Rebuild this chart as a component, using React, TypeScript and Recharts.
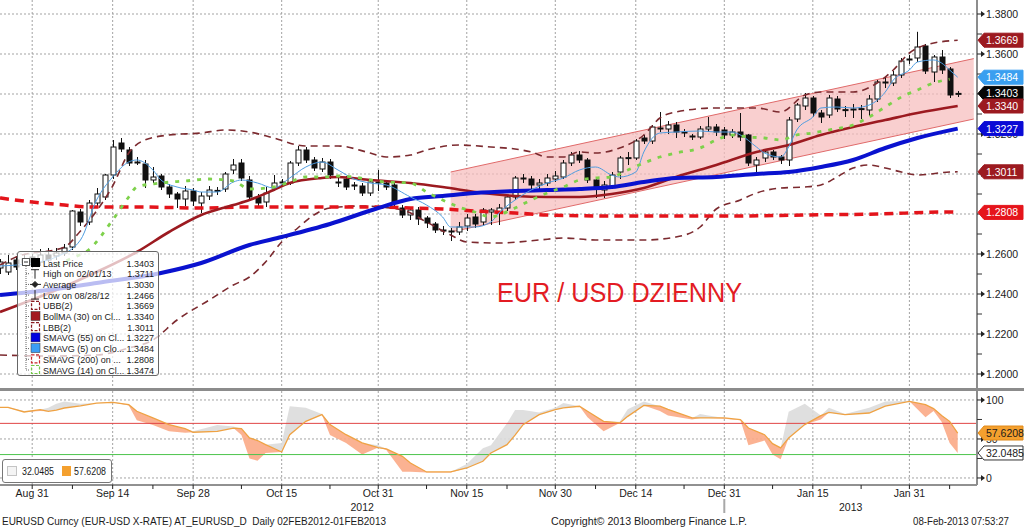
import React from "react";
import {
  ComposedChart,
  Bar,
  Line,
  Area,
  XAxis,
  YAxis,
  CartesianGrid,
  ReferenceLine,
  ReferenceArea,
} from "recharts";

const FONT = '"Liberation Sans", Arial, sans-serif';
const INK = "#1b1b1b";

// EUR/USD daily candles, weekdays 27 Aug 2012 .. 8 Feb 2013 (index = trading day)
const opens = [
  1.2530, 1.2510, 1.2570, 1.2555, 1.2585, 1.2560, 1.2595, 1.2590, 1.2605, 1.2635,
  1.2810, 1.2760, 1.2855, 1.2885, 1.2995, 1.3155, 1.3120, 1.3055, 1.3050, 1.2970,
  1.2990, 1.2935, 1.2900, 1.2875, 1.2915, 1.2855, 1.2890, 1.2915, 1.2925, 1.3020,
  1.3055, 1.2970, 1.2885, 1.2860, 1.2930, 1.2960, 1.2955, 1.3055, 1.3120, 1.3070,
  1.3025, 1.3060, 1.2960, 1.2975, 1.2945, 1.2940, 1.2905, 1.2960, 1.2955, 1.2945,
  1.2830, 1.2795, 1.2820, 1.2780, 1.2750, 1.2720, 1.2715, 1.2710, 1.2740, 1.2785,
  1.2760, 1.2810, 1.2805, 1.2830, 1.2885, 1.2975, 1.2975, 1.2945, 1.2955, 1.2975,
  1.2985, 1.3055, 1.3095, 1.3070, 1.2970, 1.2920, 1.2935, 1.3010, 1.3080, 1.3080,
  1.3180, 1.3165, 1.3225, 1.3225, 1.3245, 1.3210, 1.3190, 1.3185, 1.3225, 1.3235,
  1.3220, 1.3195, 1.3210, 1.3195, 1.3045, 1.3080, 1.3110, 1.3085, 1.3070, 1.3275,
  1.3340, 1.3380, 1.3305, 1.3295, 1.3375, 1.3320, 1.3320, 1.3325, 1.3320, 1.3375,
  1.3455, 1.3455, 1.3495, 1.3570, 1.3580, 1.3640, 1.3510, 1.3585, 1.3525, 1.3400,
];
const highs = [
  1.2575, 1.2595, 1.2590, 1.2600, 1.2600, 1.2625, 1.2630, 1.2630, 1.2650, 1.2820,
  1.2825, 1.2870, 1.2930, 1.3000, 1.3170, 1.3180, 1.3135, 1.3085, 1.3070, 1.3035,
  1.3000, 1.2950, 1.2910, 1.2940, 1.2930, 1.2910, 1.2940, 1.2935, 1.3010, 1.3075,
  1.3075, 1.2990, 1.2900, 1.2935, 1.2995, 1.2975, 1.3065, 1.3140, 1.3135, 1.3085,
  1.3080, 1.3075, 1.2980, 1.2990, 1.2960, 1.2955, 1.2975, 1.3020, 1.2970, 1.2960,
  1.2845, 1.2835, 1.2835, 1.2790, 1.2760, 1.2740, 1.2730, 1.2760, 1.2800, 1.2800,
  1.2830, 1.2830, 1.2850, 1.2895, 1.2990, 1.3000, 1.2990, 1.2975, 1.3000, 1.3015,
  1.3070, 1.3110, 1.3115, 1.3080, 1.2985, 1.2965, 1.3010, 1.3090, 1.3110, 1.3175,
  1.3195, 1.3245, 1.3310, 1.3265, 1.3260, 1.3225, 1.3200, 1.3240, 1.3285, 1.3250,
  1.3235, 1.3225, 1.3305, 1.3200, 1.3085, 1.3125, 1.3120, 1.3095, 1.3285, 1.3355,
  1.3405, 1.3390, 1.3320, 1.3395, 1.3390, 1.3340, 1.3350, 1.3345, 1.3395, 1.3470,
  1.3485, 1.3515, 1.3580, 1.3595, 1.3711, 1.3650, 1.3595, 1.3620, 1.3535, 1.3415,
];
const lows = [
  1.2500, 1.2495, 1.2520, 1.2540, 1.2530, 1.2540, 1.2560, 1.2570, 1.2590, 1.2620,
  1.2740, 1.2745, 1.2840, 1.2870, 1.2975, 1.3110, 1.3040, 1.3045, 1.2930, 1.2955,
  1.2920, 1.2880, 1.2830, 1.2840, 1.2840, 1.2805, 1.2870, 1.2895, 1.2910, 1.3000,
  1.2965, 1.2870, 1.2835, 1.2835, 1.2915, 1.2940, 1.2945, 1.3040, 1.3055, 1.3015,
  1.3010, 1.2975, 1.2935, 1.2920, 1.2920, 1.2890, 1.2890, 1.2915, 1.2920, 1.2840,
  1.2780, 1.2770, 1.2745, 1.2730, 1.2705, 1.2695, 1.2665, 1.2695, 1.2715, 1.2730,
  1.2745, 1.2745, 1.2745, 1.2815, 1.2870, 1.2955, 1.2925, 1.2910, 1.2940, 1.2960,
  1.2975, 1.3040, 1.3055, 1.2955, 1.2880, 1.2880, 1.2925, 1.2975, 1.3045, 1.3070,
  1.3150, 1.3150, 1.3210, 1.3200, 1.3180, 1.3185, 1.3170, 1.3175, 1.3210, 1.3190,
  1.3175, 1.3180, 1.3165, 1.3040, 1.3010, 1.3060, 1.3070, 1.3050, 1.3040, 1.3260,
  1.3320, 1.3285, 1.3255, 1.3280, 1.3310, 1.3285, 1.3280, 1.3275, 1.3290, 1.3360,
  1.3430, 1.3440, 1.3480, 1.3550, 1.3560, 1.3500, 1.3460, 1.3500, 1.3380, 1.3385,
];
const closes = [
  1.2560, 1.2555, 1.2535, 1.2575, 1.2545, 1.2595, 1.2570, 1.2605, 1.2630, 1.2815,
  1.2760, 1.2855, 1.2900, 1.2995, 1.3135, 1.3125, 1.3055, 1.3060, 1.2970, 1.2985,
  1.2935, 1.2900, 1.2875, 1.2915, 1.2865, 1.2890, 1.2920, 1.2918, 1.3000, 1.3045,
  1.2980, 1.2885, 1.2855, 1.2905, 1.2955, 1.2955, 1.3055, 1.3120, 1.3070, 1.3030,
  1.3060, 1.2995, 1.2955, 1.2935, 1.2940, 1.2905, 1.2960, 1.2955, 1.2935, 1.2860,
  1.2795, 1.2820, 1.2775, 1.2755, 1.2720, 1.2715, 1.2710, 1.2735, 1.2780, 1.2750,
  1.2820, 1.2820, 1.2830, 1.2885, 1.2980, 1.2980, 1.2945, 1.2955, 1.2980, 1.2990,
  1.3055, 1.3095, 1.3070, 1.2970, 1.2930, 1.2945, 1.2995, 1.3080, 1.3082, 1.3165,
  1.3165, 1.3235, 1.3230, 1.3245, 1.3210, 1.3205, 1.3185, 1.3225, 1.3235, 1.3210,
  1.3195, 1.3210, 1.3185, 1.3055, 1.3070, 1.3110, 1.3085, 1.3070, 1.3270, 1.3345,
  1.3380, 1.3305, 1.3285, 1.3380, 1.3325, 1.3322, 1.3325, 1.3327, 1.3375, 1.3460,
  1.3460, 1.3495, 1.3565, 1.3575, 1.3635, 1.3515, 1.3585, 1.3520, 1.3395, 1.3403,
];

// overlay studies at the given trading-day indices
const sma55Days = [0, 6, 12, 20, 25, 31, 35, 41, 47, 51, 55, 59, 64, 68, 72, 76, 80, 84, 89, 94, 98, 102, 106, 110, 114, 119];
const sma55 = [1.2395, 1.242, 1.2455, 1.2505, 1.2555, 1.2645, 1.2685, 1.275, 1.283, 1.2875, 1.289, 1.2905, 1.2915, 1.292, 1.2925, 1.2935, 1.296, 1.298, 1.2985, 1.3, 1.301, 1.3035, 1.307, 1.313, 1.318, 1.3227];

const bollDays = [0, 7, 12, 17, 21, 25, 29, 31, 34, 36, 40, 42, 46, 51, 55, 60, 64, 68, 72, 76, 80, 84, 89, 94, 98, 102, 106, 110, 114, 119];
const bollMid = [1.231, 1.242, 1.251, 1.261, 1.271, 1.2795, 1.2845, 1.287, 1.292, 1.2955, 1.298, 1.2985, 1.297, 1.2955, 1.2935, 1.2905, 1.289, 1.2885, 1.2885, 1.29, 1.293, 1.2985, 1.3045, 1.311, 1.3145, 1.3195, 1.3235, 1.327, 1.3305, 1.334];

const ubbDays = [0, 2, 8, 10, 12, 14, 16, 18, 21, 25, 28, 31, 34, 38, 42, 46, 48, 51, 53, 57, 61, 64, 66, 68, 70, 72, 74, 77, 80, 82, 84, 89, 94, 97, 100, 102, 106, 109, 111, 113, 115, 119];
const bollUpper = [1.2545, 1.2585, 1.2635, 1.2715, 1.2815, 1.294, 1.3105, 1.317, 1.3195, 1.3205, 1.322, 1.321, 1.318, 1.314, 1.314, 1.3105, 1.3085, 1.3095, 1.312, 1.3145, 1.3135, 1.3125, 1.311, 1.3085, 1.3085, 1.311, 1.3105, 1.313, 1.3195, 1.328, 1.331, 1.333, 1.333, 1.331, 1.3395, 1.341, 1.341, 1.3455, 1.352, 1.3605, 1.3645, 1.3669];

const lbbDays = [0, 6, 12, 16, 19, 22, 26, 29, 31, 33, 35, 37, 39, 41, 45, 50, 53, 56, 58, 62, 67, 70, 74, 80, 84, 87, 89, 92, 94, 97, 100, 102, 104, 106, 108, 110, 112, 114, 118, 119];
const bollLower = [1.2095, 1.209, 1.2095, 1.213, 1.217, 1.227, 1.237, 1.2445, 1.2485, 1.256, 1.266, 1.273, 1.2795, 1.283, 1.284, 1.282, 1.276, 1.2695, 1.266, 1.2655, 1.267, 1.268, 1.267, 1.267, 1.2685, 1.2735, 1.2825, 1.287, 1.2905, 1.293, 1.2935, 1.2945, 1.2985, 1.303, 1.3045, 1.303, 1.301, 1.2995, 1.301, 1.3011];

const sma200Days = [0, 4, 8, 11, 17, 25, 31, 38, 46, 51, 55, 59, 64, 68, 76, 84, 91, 100, 109, 118, 119];
const sma200 = [1.288, 1.286, 1.2845, 1.2835, 1.2835, 1.283, 1.2835, 1.2835, 1.2835, 1.283, 1.2825, 1.2815, 1.2805, 1.2795, 1.279, 1.279, 1.279, 1.2795, 1.28, 1.281, 1.2808];

const sma5Days = [0, 4, 7, 10, 12, 14, 16, 17, 19, 20, 22, 24, 25, 27, 29, 30, 32, 34, 36, 38, 40, 42, 44, 46, 48, 51, 53, 55, 56, 59, 61, 62, 64, 66, 68, 70, 72, 74, 76, 77, 79, 80, 82, 84, 87, 89, 91, 92, 94, 95, 97, 98, 99, 101, 102, 104, 106, 108, 110, 111, 113, 114, 116, 117, 118, 119];
const sma5 = [1.254, 1.2555, 1.2585, 1.267, 1.287, 1.2985, 1.306, 1.307, 1.302, 1.297, 1.2935, 1.292, 1.291, 1.291, 1.296, 1.297, 1.2955, 1.293, 1.298, 1.3035, 1.306, 1.302, 1.2975, 1.2955, 1.2945, 1.2885, 1.2845, 1.2785, 1.2735, 1.2735, 1.276, 1.2805, 1.287, 1.292, 1.2955, 1.298, 1.302, 1.3035, 1.2995, 1.2985, 1.301, 1.311, 1.3205, 1.321, 1.3215, 1.321, 1.321, 1.3195, 1.3135, 1.3105, 1.3085, 1.3135, 1.322, 1.3285, 1.333, 1.3335, 1.333, 1.3345, 1.341, 1.347, 1.352, 1.356, 1.357, 1.3555, 1.352, 1.3484];

const sma14Days = [7, 9, 11, 14, 16, 17, 20, 23, 26, 29, 31, 34, 36, 38, 40, 42, 44, 46, 48, 51, 53, 55, 57, 59, 61, 62, 64, 66, 68, 70, 72, 74, 76, 78, 80, 82, 84, 87, 89, 91, 93, 95, 97, 99, 101, 103, 106, 108, 110, 112, 114, 116, 118];
const sma14 = [1.2545, 1.258, 1.262, 1.277, 1.2885, 1.2935, 1.2955, 1.2965, 1.2975, 1.2965, 1.2925, 1.2935, 1.296, 1.2985, 1.2985, 1.299, 1.2985, 1.297, 1.296, 1.2955, 1.291, 1.287, 1.2835, 1.281, 1.2785, 1.2795, 1.283, 1.287, 1.2905, 1.2935, 1.297, 1.298, 1.2985, 1.302, 1.3055, 1.3085, 1.3105, 1.313, 1.317, 1.3195, 1.3185, 1.318, 1.317, 1.3195, 1.3205, 1.322, 1.3245, 1.3285, 1.3335, 1.3385, 1.342, 1.3455, 1.3474];

// hand drawn trend channel
const channelDays = [56, 121];
const channelTop = [1.301, 1.3577];
const channelBottom = [1.271, 1.3275];

// stochastic panel
const stochDays = [0, 1, 3, 5, 6, 7, 8, 10, 12, 14, 16, 17, 19, 21, 23, 24, 27, 29, 30, 31, 32, 33, 35, 36, 38, 40, 41, 43, 45, 47, 48, 50, 51, 53, 56, 58, 60, 61, 63, 64, 65, 67, 69, 70, 72, 73, 75, 77, 78, 80, 82, 83, 86, 87, 88, 90, 92, 93, 95, 96, 97, 98, 100, 102, 103, 105, 108, 110, 113, 115, 116, 117, 118, 119];
const stochSlow = [90.6, 90.6, 84.6, 87.6, 85.5, 87, 89.7, 92.5, 96, 97, 94, 85.5, 77, 68.4, 63.2, 58.6, 59.8, 64, 63.2, 51.3, 48, 42.7, 33.3, 55.5, 72.6, 81.2, 68.4, 55.5, 45, 39, 37.2, 27.8, 19.2, 7.7, 7.7, 12.8, 21.4, 32, 42.7, 55, 68.4, 81.2, 87.6, 90, 91.9, 85.5, 72.6, 70.5, 79, 93, 92, 88, 77, 77, 77, 77, 74.8, 64, 55.5, 44, 38.5, 51.3, 68.4, 80, 84, 81.2, 83.3, 92, 98.3, 94, 89, 80, 72.6, 57.6208];
const stochFast = [91, 90, 86, 86, 90, 95, 98, 95, 96, 98, 93, 74, 68, 60, 58, 60, 68, 66, 55, 25, 22, 32, 45, 92, 90, 82, 55, 45, 30, 42, 36, 8, 8, 7, 7, 18, 38, 42, 70, 87, 87, 84, 90, 96, 92, 78, 60, 72, 88, 98, 86, 80, 75, 82, 80, 76, 74, 42, 48, 30, 24, 85, 95, 75, 90, 82, 90, 98, 99, 78, 86, 72, 45, 32.0485];

// axes
const tickDays = [4, 14, 24, 35, 47, 58, 69, 79, 90, 101, 113];
const tickLabels = ["Aug 31", "Sep 14", "Sep 28", "Oct 15", "Oct 31", "Nov 15", "Nov 30", "Dec 14", "Dec 31", "Jan 15", "Jan 31"];
const minorDays = [9, 19, 30, 41, 53, 63, 74, 85, 96, 107, 118];
const yearLabels = ["2012", "2013"];
const yearFrom = [0, 90];
const yearTo = [90, 121.4];
const priceTicks = [1.2, 1.21, 1.22, 1.23, 1.24, 1.25, 1.26, 1.27, 1.28, 1.29, 1.3, 1.31, 1.32, 1.33, 1.34, 1.35, 1.36, 1.37, 1.38];
// labels fully covered by the value tags in the reference
const coveredPriceLabels = [1.28, 1.3, 1.34];
const priceGrid = [1.2, 1.22, 1.24, 1.26, 1.28, 1.3, 1.32, 1.34, 1.36, 1.38];
const stochTicks = [0, 25, 50, 75, 100];
const stochGrid = [0, 50, 100];

// last-value tags on the right axis
const priceTagValues = [1.3669, 1.3484, 1.3403, 1.334, 1.3227, 1.3011, 1.2808];
const priceTagColors = ["#9c1a20", "#3a9ff0", "#050505", "#9c1a20", "#0a0ad6", "#9c1a20", "#e5141b"];
const stochTagValues = [57.6208, 32.0485];
const stochTagColors = ["#f4a02e", "#ffffff"];
const stochTagBorders = ["#e08a1a", "#333333"];

const legendNames = ["Last Price", "High on 02/01/13", "Average", "Low on 08/28/12", "UBB(2)", "BollMA (30) on Cl...", "LBB(2)", "SMAVG (55) on Cl...", "SMAVG (5) on Clo...", "SMAVG (200) on ...", "SMAVG (14) on Cl..."];
const legendValues = ["1.3403", "1.3711", "1.3030", "1.2466", "1.3669", "1.3340", "1.3011", "1.3227", "1.3484", "1.2808", "1.3474"];
const legendIcons = ["last", "high", "avg", "low", "dash:#8b1c22", "fill:#a3191f", "dash:#8b1c22", "fill:#0000e0", "fill:#3b9ef5", "dash:#c8282c", "dash:#74c84a"];

const X_DOMAIN: [number, number] = [0, 121.4];
const PRICE_DOMAIN: [number, number] = [1.193, 1.387];
const STOCH_DOMAIN: [number, number] = [-9, 111.5];

type Row = { i: number; [k: string]: any };

function place(rows: Row[], days: number[], vals: number[], key: string) {
  days.forEach((d, k) => {
    rows[d][key] = vals[k];
  });
}

const priceRows: Row[] = Array.from({ length: 122 }, (_, i) => ({ i }));
opens.forEach((o, i) => {
  Object.assign(priceRows[i], { o, h: highs[i], l: lows[i], c: closes[i], hl: [lows[i], highs[i]] });
});
place(priceRows, sma55Days, sma55, "sma55");
place(priceRows, bollDays, bollMid, "boll");
place(priceRows, ubbDays, bollUpper, "ubb");
place(priceRows, lbbDays, bollLower, "lbb");
place(priceRows, sma200Days, sma200, "sma200");
place(priceRows, sma5Days, sma5, "sma5");
place(priceRows, sma14Days, sma14, "sma14");
channelDays.forEach((d, k) => {
  priceRows[d].ch = [channelBottom[k], channelTop[k]];
});

const stochRows = stochDays.map((d, k) => {
  const s = stochSlow[k];
  const f = stochFast[k];
  return { i: d, slow: s, fast: f, below: [Math.min(f, s), s], above: [s, Math.max(f, s)] };
});

function Candle(props: any) {
  const { x, y, width, height, payload } = props;
  if (!payload || payload.o == null || !isFinite(y)) return null;
  const { o, h, l, c } = payload;
  const top = Math.min(y, y + height);
  const span = Math.abs(height);
  const k = span / (h - l);
  const cx = Math.round(x + width / 2) + 0.5;
  const yO = top + (h - o) * k;
  const yC = top + (h - c) * k;
  const bTop = Math.min(yO, yC);
  const bH = Math.max(1, Math.abs(yO - yC));
  const up = c >= o;
  return (
    <g>
      <line x1={cx} x2={cx} y1={top} y2={top + span} stroke="#111" strokeWidth={1} />
      <rect x={cx - 2.5} y={bTop} width={5} height={bH} fill={up ? "#ffffff" : "#111111"} stroke="#111" strokeWidth={1} />
    </g>
  );
}

function ArrowTick({ x, y }: { x: number; y: number }) {
  return (
    <g>
      <line x1={x} x2={x + 6} y1={y} y2={y} stroke="#222" />
      <path d={`M${x + 4},${y - 3}L${x + 8},${y}L${x + 4},${y + 3}Z`} fill="#222" />
    </g>
  );
}

function PriceTick(props: any) {
  const { x, y, payload } = props;
  const v = payload.value as number;
  const major = Math.round(v * 100) % 2 === 0;
  if (!major) return <line x1={x} x2={x + 5} y1={y} y2={y} stroke="#333" />;
  const covered = coveredPriceLabels.some((c) => Math.abs(c - v) < 1e-6);
  return (
    <g>
      <ArrowTick x={x} y={y} />
      {!covered && (
        <text x={x + 9} y={y + 4} fontSize={10.5} fontFamily={FONT} fill={INK}>
          {v.toFixed(4)}
        </text>
      )}
    </g>
  );
}

function StochTick(props: any) {
  const { x, y, payload } = props;
  const v = payload.value as number;
  if (v % 50 !== 0) return <line x1={x} x2={x + 5} y1={y} y2={y} stroke="#333" />;
  return (
    <g>
      <ArrowTick x={x} y={y} />
      <text x={x + 9} y={y + 4} fontSize={10.5} fontFamily={FONT} fill={INK}>
        {v}
      </text>
    </g>
  );
}

function DayTick(props: any) {
  const { x, y, payload } = props;
  const k = tickDays.indexOf(payload.value);
  return (
    <g>
      <line x1={x} x2={x} y1={y} y2={y + 4} stroke="#222" />
      {k >= 0 && (
        <text x={x} y={y + 12} textAnchor="middle" fontSize={10.5} fontFamily={FONT} fill={INK}>
          {tickLabels[k]}
        </text>
      )}
      {payload.value === yearFrom[1] && <line x1={x} x2={x} y1={y + 14} y2={y + 28} stroke="#a8a8a8" strokeWidth={2} />}
    </g>
  );
}

function tagLabel(value: number, bg: string, fg: string, border: string) {
  return (p: any) => {
    const vb = p && p.viewBox;
    if (!vb) return null;
    const x = vb.x + vb.width;
    const y = vb.y;
    return (
      <g>
        <path
          d={`M${x + 1},${y} L${x + 7},${y - 7} L${x + 46},${y - 7} L${x + 46},${y + 7} L${x + 7},${y + 7} Z`}
          fill={bg}
          stroke={border}
          strokeWidth={1}
        />
        <text x={x + 9} y={y + 4} fontSize={10.5} fontFamily={FONT} fill={fg}>
          {value.toFixed(4)}
        </text>
      </g>
    );
  };
}

function yearLabel(text: string) {
  return (p: any) => {
    const vb = p && p.viewBox;
    if (!vb) return null;
    return (
      <text x={vb.x + vb.width / 2} y={vb.y + vb.height + 26} textAnchor="middle" fontSize={10.5} fontFamily={FONT} fill={INK}>
        {text}
      </text>
    );
  };
}

function LegendIcon({ kind, y }: { kind: string; y: number }) {
  if (kind === "last") return <rect x={13} y={y - 5} width={9} height={9} fill="#000" />;
  if (kind === "high")
    return (
      <g stroke="#222">
        <line x1={13} x2={21} y1={y - 4} y2={y - 4} />
        <line x1={17} x2={17} y1={y - 4} y2={y + 5} />
      </g>
    );
  if (kind === "avg")
    return (
      <g stroke="#222" fill="#222">
        <line x1={12} x2={23} y1={y} y2={y} />
        <path d={`M17,${y - 3}L20,${y}L17,${y + 3}L14,${y}Z`} />
      </g>
    );
  if (kind === "low")
    return (
      <g stroke="#222">
        <line x1={17} x2={17} y1={y - 5} y2={y + 4} />
        <line x1={13} x2={21} y1={y + 4} y2={y + 4} />
      </g>
    );
  const [style, color] = kind.split(":");
  if (style === "fill") return <rect x={13} y={y - 5} width={9} height={9} fill={color} stroke="#333" strokeWidth={0.5} />;
  return <rect x={13.5} y={y - 4.5} width={8} height={8} fill="none" stroke={color} strokeWidth={1.2} strokeDasharray="3 1.5" />;
}

function UpperLegend() {
  const rowY = (k: number) => 11 + k * 10.7;
  return (
    <div
      style={{
        position: "absolute",
        left: 17,
        top: 251,
        width: 140,
        height: 123,
        background: "rgba(255,255,255,0.72)",
        border: "1px solid #666",
        borderRadius: 3,
      }}
    >
      <svg width={140} height={123} style={{ position: "absolute", left: 0, top: 0 }}>
        <rect x={4.5} y={rowY(0) - 4.5} width={7} height={7} fill="#fff" stroke="#555" />
        <line x1={6} x2={10} y1={rowY(0) - 1} y2={rowY(0) - 1} stroke="#333" />
        <line x1={8} x2={8} y1={rowY(0) + 3} y2={rowY(10)} stroke="#666" strokeDasharray="1 1" />
        {legendNames.map((name, k) => (
          <g key={name}>
            {k > 0 && <line x1={8} x2={12} y1={rowY(k)} y2={rowY(k)} stroke="#666" strokeDasharray="1 1" />}
            <LegendIcon kind={legendIcons[k]} y={rowY(k)} />
            <text x={25} y={rowY(k) + 3.5} fontSize={9} fontFamily={FONT} fill={INK}>
              {name}
            </text>
            <text x={136} y={rowY(k) + 3.5} fontSize={9} fontFamily={FONT} fill={INK} textAnchor="end">
              {legendValues[k]}
            </text>
          </g>
        ))}
      </svg>
    </div>
  );
}

function LowerLegend() {
  return (
    <div
      style={{
        position: "absolute",
        left: 2,
        top: 459,
        width: 108,
        height: 22,
        background: "#fff",
        border: "1px solid #777",
        borderRadius: 3,
      }}
    >
      <svg width={108} height={22} style={{ position: "absolute", left: 0, top: 0 }}>
        <rect x={4.5} y={6.5} width={9} height={9} fill="#f4f4f4" stroke="#c4c4c4" />
        <text x={19} y={15} fontSize={10} fontFamily={FONT} fill={INK} textLength={32} lengthAdjust="spacingAndGlyphs">
          {stochTagValues[1].toFixed(4)}
        </text>
        <rect x={59} y={6} width={9} height={10} fill="#f4a02e" />
        <text x={71} y={15} fontSize={10} fontFamily={FONT} fill={INK} textLength={32} lengthAdjust="spacingAndGlyphs">
          {stochTagValues[0].toFixed(4)}
        </text>
      </svg>
    </div>
  );
}

export default function App() {
  return (
    <div
      style={{
        position: "absolute",
        left: 0,
        top: 0,
        width: 1024,
        height: 528,
        background: "#fff",
        overflow: "hidden",
        fontFamily: FONT,
      }}
    >
      <div style={{ position: "absolute", left: 0, top: 0 }}>
        <ComposedChart width={1024} height={388} data={priceRows} margin={{ top: 0, right: 0, bottom: 0, left: 0 }}>
          <CartesianGrid horizontalValues={priceGrid} verticalValues={tickDays} stroke="#a3a3a3" strokeDasharray="2 2" />
          <XAxis dataKey="i" type="number" domain={X_DOMAIN} allowDataOverflow hide />
          <YAxis
            orientation="right"
            width={47}
            domain={PRICE_DOMAIN}
            allowDataOverflow
            ticks={priceTicks}
            interval={0}
            tick={PriceTick}
            tickLine={false}
            tickSize={0}
            tickMargin={0}
            axisLine={{ stroke: "#8d8d8d", strokeWidth: 2 }}
          />
          <Area dataKey="ch" type="linear" connectNulls fill="#f7bdbd" fillOpacity={0.72} stroke="#e06a6a" strokeWidth={1} dot={false} activeDot={false} isAnimationActive={false} />
          <Line dataKey="ubb" type="monotone" connectNulls stroke="#7c2a2f" strokeWidth={1.6} strokeDasharray="7 5" dot={false} activeDot={false} isAnimationActive={false} />
          <Line dataKey="lbb" type="monotone" connectNulls stroke="#7c2a2f" strokeWidth={1.6} strokeDasharray="7 5" dot={false} activeDot={false} isAnimationActive={false} />
          <Line dataKey="sma200" type="monotone" connectNulls stroke="#e3141b" strokeWidth={3.5} strokeDasharray="9 6" dot={false} activeDot={false} isAnimationActive={false} />
          <Line dataKey="boll" type="monotone" connectNulls stroke="#9c1a20" strokeWidth={2.6} dot={false} activeDot={false} isAnimationActive={false} />
          <Line dataKey="sma55" type="monotone" connectNulls stroke="#0a12cf" strokeWidth={4} dot={false} activeDot={false} isAnimationActive={false} />
          <Bar dataKey="hl" barSize={6} shape={Candle} isAnimationActive={false} />
          <Line dataKey="sma5" type="monotone" connectNulls stroke="#4f9de0" strokeWidth={1} dot={false} activeDot={false} isAnimationActive={false} />
          <Line dataKey="sma14" type="monotone" connectNulls stroke="#7ed14b" strokeWidth={2.8} strokeDasharray="4 7" dot={false} activeDot={false} isAnimationActive={false} />
        </ComposedChart>
      </div>

      {/* value tags: same scales, drawn on top of the axis labels */}
      <div style={{ position: "absolute", left: 0, top: 0 }}>
        <ComposedChart width={1024} height={388} data={priceRows} margin={{ top: 0, right: 0, bottom: 0, left: 0 }}>
          <XAxis dataKey="i" type="number" domain={X_DOMAIN} allowDataOverflow hide />
          <YAxis orientation="right" width={47} domain={PRICE_DOMAIN} allowDataOverflow tick={false} axisLine={false} tickLine={false} />
          {priceTagValues.map((v, k) => (
            <ReferenceLine key={v} y={v} stroke="none" label={tagLabel(v, priceTagColors[k], "#ffffff", priceTagColors[k])} />
          ))}
        </ComposedChart>
      </div>

      <div style={{ position: "absolute", left: 0, top: 388, width: 1024, height: 3, background: "#8c8c8c" }} />

      <div style={{ position: "absolute", left: 0, top: 391 }}>
        <ComposedChart width={1024} height={130} data={stochRows} margin={{ top: 0, right: 0, bottom: 0, left: 0 }}>
          <CartesianGrid horizontalValues={stochGrid} verticalValues={tickDays} stroke="#a3a3a3" strokeDasharray="2 2" />
          <XAxis
            dataKey="i"
            type="number"
            domain={X_DOMAIN}
            allowDataOverflow
            ticks={[...tickDays, ...minorDays].sort((a, b) => a - b)}
            interval={0}
            tick={DayTick}
            tickLine={false}
            tickSize={0}
            tickMargin={0}
            height={36}
            axisLine={{ stroke: "#222" }}
          />
          <YAxis
            orientation="right"
            width={47}
            domain={STOCH_DOMAIN}
            allowDataOverflow
            ticks={stochTicks}
            interval={0}
            tick={StochTick}
            tickLine={false}
            tickSize={0}
            tickMargin={0}
            axisLine={{ stroke: "#8d8d8d", strokeWidth: 2 }}
          />
          <ReferenceLine y={70} stroke="#e04545" strokeWidth={1} />
          <ReferenceLine y={30} stroke="#4cc44c" strokeWidth={1} />
          <Area dataKey="above" type="linear" stroke="none" fill="#dcdcdc" fillOpacity={0.9} dot={false} activeDot={false} isAnimationActive={false} />
          <Area dataKey="below" type="linear" stroke="none" fill="#fbaa86" fillOpacity={0.9} dot={false} activeDot={false} isAnimationActive={false} />
          <Line dataKey="slow" type="linear" stroke="#efa243" strokeWidth={1.3} dot={false} activeDot={false} isAnimationActive={false} />
          {yearLabels.map((t, k) => (
            <ReferenceArea key={t} x1={yearFrom[k]} x2={yearTo[k]} fill="none" stroke="none" label={yearLabel(t)} />
          ))}
        </ComposedChart>
      </div>

      <div style={{ position: "absolute", left: 0, top: 391 }}>
        <ComposedChart width={1024} height={94} data={stochRows} margin={{ top: 0, right: 0, bottom: 0, left: 0 }}>
          <XAxis dataKey="i" type="number" domain={X_DOMAIN} allowDataOverflow hide />
          <YAxis orientation="right" width={47} domain={STOCH_DOMAIN} allowDataOverflow tick={false} axisLine={false} tickLine={false} />
          {stochTagValues.map((v, k) => (
            <ReferenceLine key={v} y={v} stroke="none" label={tagLabel(v, stochTagColors[k], INK, stochTagBorders[k])} />
          ))}
        </ComposedChart>
      </div>

      <UpperLegend />
      <LowerLegend />

      <svg width={1024} height={528} style={{ position: "absolute", left: 0, top: 0, pointerEvents: "none" }}>
        <text x={497} y={302} fontSize={28} fontFamily={FONT} fill="#e31b23" textLength={245} lengthAdjust="spacingAndGlyphs">
          EUR / USD DZIENNY
        </text>
        <text x={2} y={525} fontSize={10.5} fontFamily={FONT} fill={INK} textLength={384} lengthAdjust="spacingAndGlyphs" style={{ whiteSpace: "pre" }}>
          {"EURUSD Curncy (EUR-USD X-RATE) AT_EURUSD_D  Daily 02FEB2012-01FEB2013"}
        </text>
        <text x={551} y={525} fontSize={10.5} fontFamily={FONT} fill={INK} textLength={196} lengthAdjust="spacingAndGlyphs">
          Copyright© 2013 Bloomberg Finance L.P.
        </text>
        <text x={913} y={525} fontSize={10.5} fontFamily={FONT} fill={INK} textLength={96} lengthAdjust="spacingAndGlyphs">
          08-Feb-2013 07:53:27
        </text>
      </svg>
    </div>
  );
}
